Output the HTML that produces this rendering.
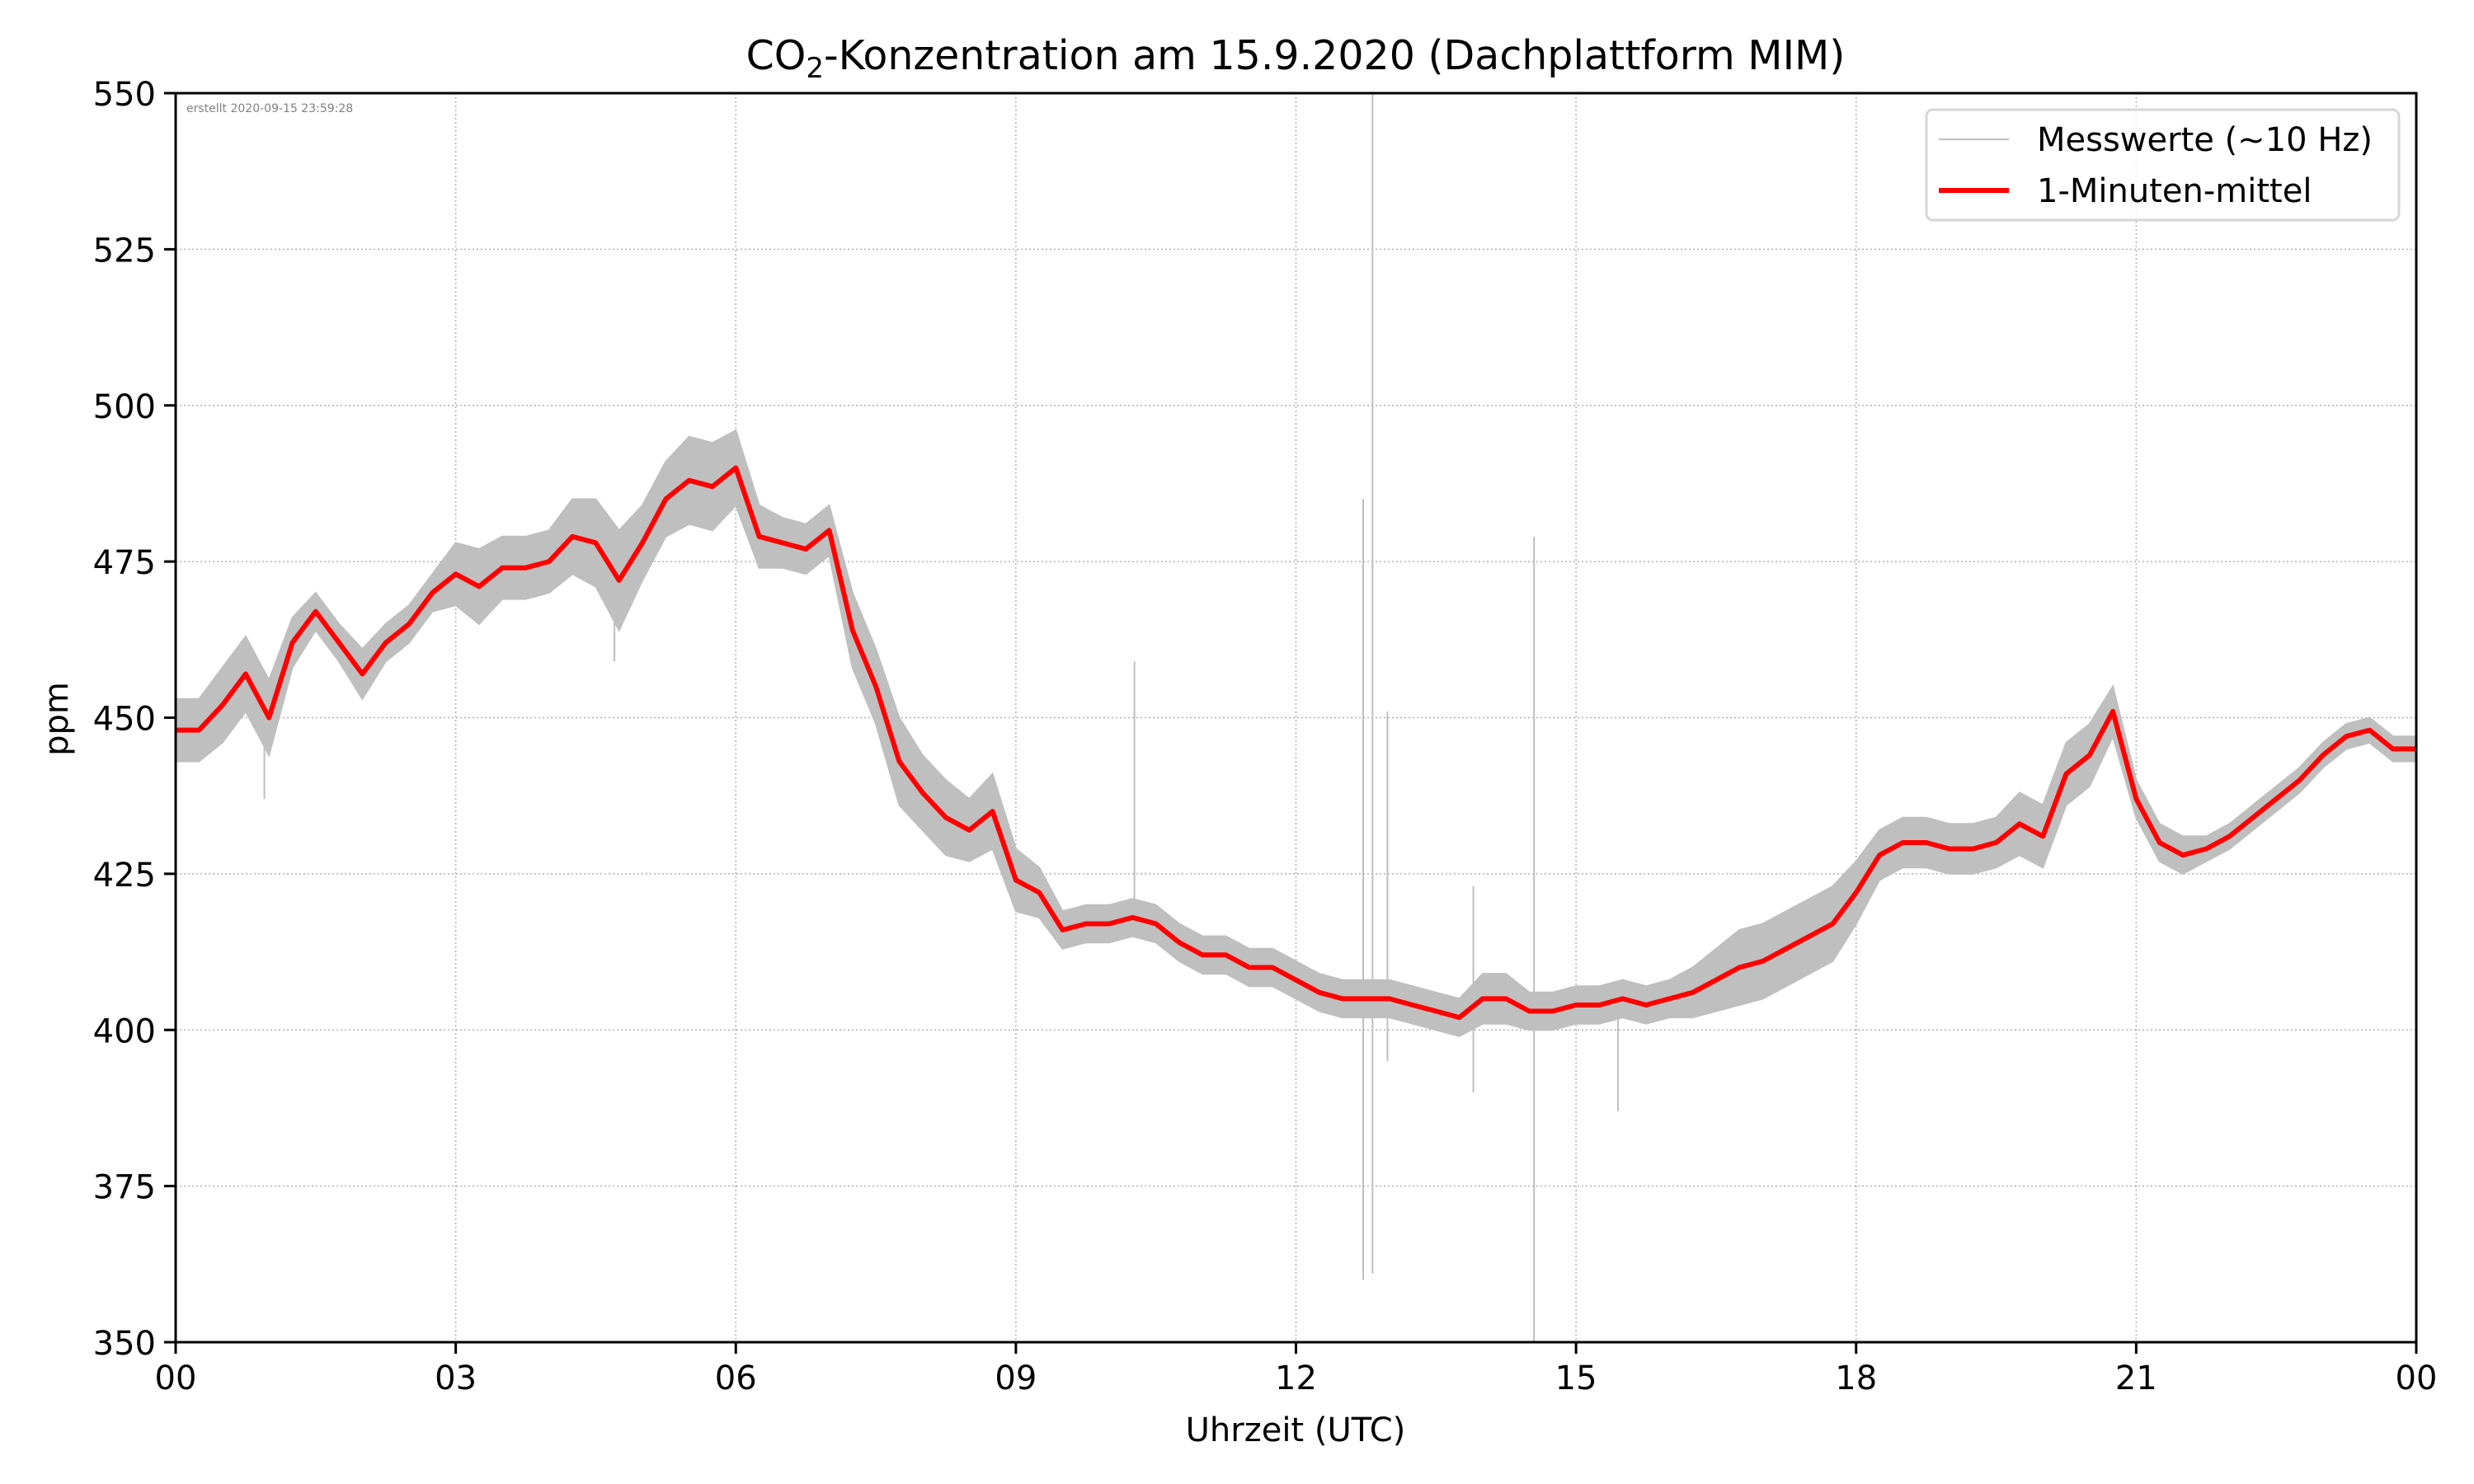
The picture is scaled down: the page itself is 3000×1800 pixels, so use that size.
<!DOCTYPE html>
<html><head><meta charset="utf-8"><style>
html,body{margin:0;padding:0;background:#fff;}
svg{display:block;font-family:"DejaVu Sans","Liberation Sans",sans-serif;}
</style></head><body>
<svg id="chart" width="3000" height="1800" viewBox="0 0 3000 1800" xmlns="http://www.w3.org/2000/svg">
<rect width="3000" height="1800" fill="#fff"/>
<g id="grid"></g>
<g id="raw"></g>
<g id="mean"></g>
<g id="axes"></g>
<text x="1571" y="84" font-size="49" text-anchor="middle">CO<tspan font-size="34" dy="10">2</tspan><tspan dy="-10">-Konzentration am 15.9.2020 (Dachplattform MIM)</tspan></text>
<text x="1571" y="1748" font-size="40" text-anchor="middle">Uhrzeit (UTC)</text>
<text x="0" y="0" font-size="40" text-anchor="middle" transform="translate(82,872) rotate(-90)">ppm</text>
<text x="226" y="136" font-size="14" fill="#808080">erstellt 2020-09-15 23:59:28</text>
<g>
<rect x="2336" y="133" width="573" height="134" rx="8" fill="#fff" fill-opacity="0.8" stroke="#d6d6d6" stroke-width="3"/>
<line x1="2351" y1="169" x2="2436" y2="169" stroke="#bfbfbf" stroke-width="2"/>
<text x="2470" y="183" font-size="40">Messwerte (~10 Hz)</text>
<line x1="2351" y1="231" x2="2436" y2="231" stroke="#ff0000" stroke-width="6"/>
<text x="2470" y="245" font-size="40">1-Minuten-mittel</text>
</g>
</svg>
<script>
const hours = [];
for (let i = 0; i <= 96; i++) hours.push(i * 0.25);
const meanValues = [448,448,452,457,450,462,467,462,457,462,465,470,473,471,474,474,475,479,478,472,478,485,488,487,490,479,478,477,480,464,455,443,438,434,432,435,424,422,416,417,417,418,417,414,412,412,410,410,408,406,405,405,405,404,403,402,405,405,403,403,404,404,405,404,405,406,408,410,411,413,415,417,422,428,430,430,429,429,430,433,431,441,444,451,437,430,428,429,431,434,437,440,444,447,448,445,445];
const rawSpread = [5,5,6,6,6,4,3,3,4,3,3,3,5,6,5,5,5,6,7,8,6,6,7,7,6,5,4,4,4,6,6,7,6,6,5,6,5,4,3,3,3,3,3,3,3,3,3,3,3,3,3,3,3,3,3,3,4,4,3,3,3,3,3,3,3,4,5,6,6,6,6,6,5,4,4,4,4,4,4,5,5,5,5,4,3,3,3,2,2,2,2,2,2,2,2,2,2];
const spikeHours = [10.27,12.72,12.82,12.98,13.9,14.55,15.45,0.95,4.7];
const spikeLow = [418,360,361,395,390,350,387,437,459];
const spikeHigh = [459,485,550,451,423,479,405,452,480];
const yTicks = [350,375,400,425,450,475,500,525,550];
const xTicks = [0,3,6,9,12,15,18,21,24];
const xTickLabels = ["00","03","06","09","12","15","18","21","00"];

const L=213,R=2930,T=113,B=1628;
const xs = h => L + (R-L)*h/24;
const ys = v => B - (B-T)*(v-350)/200;
const NS="http://www.w3.org/2000/svg";
function mk(tag, attrs, parent){const e=document.createElementNS(NS,tag);for(const k in attrs)e.setAttribute(k,attrs[k]);parent.appendChild(e);return e;}
const grid=document.getElementById('grid'), axes=document.getElementById('axes'), raw=document.getElementById('raw'), mean=document.getElementById('mean');

yTicks.forEach(v=>{
  const g=mk('line',{x1:L,x2:R,y1:ys(v),y2:ys(v),stroke:'#b0b0b0','stroke-width':1.5,'stroke-dasharray':'2,3'},grid);
  
  
  const t=mk('line',{x1:L-14,x2:L,y1:ys(v),y2:ys(v),stroke:'#000','stroke-width':3},axes);
  
  
  const lb=mk('text',{x:L-24,y:ys(v)+15,'font-size':40,'text-anchor':'end'},axes);
  lb.textContent=v;
  
  
});
xTicks.forEach((h,i)=>{
  const g=mk('line',{x1:xs(h),x2:xs(h),y1:T,y2:B,stroke:'#b0b0b0','stroke-width':1.5,'stroke-dasharray':'2,3'},grid);
  
  
  const t=mk('line',{x1:xs(h),x2:xs(h),y1:B,y2:B+14,stroke:'#000','stroke-width':3},axes);
  
  
  const lb=mk('text',{x:xs(h),y:B+57,'font-size':40,'text-anchor':'middle'},axes);
  lb.textContent=xTickLabels[i];
  
  
});

let up='',dn='';
hours.forEach((h,i)=>{up+=(i?'L':'M')+xs(h).toFixed(1)+','+ys(meanValues[i]+rawSpread[i]).toFixed(1);});
for(let i=hours.length-1;i>=0;i--){dn+='L'+xs(hours[i]).toFixed(1)+','+ys(meanValues[i]-rawSpread[i]).toFixed(1);}
const band=mk('path',{d:up+dn+'Z',fill:'#bfbfbf',stroke:'#bfbfbf','stroke-width':2},raw);


spikeHours.forEach((h,i)=>{
  const s=mk('line',{x1:xs(h),x2:xs(h),y1:ys(spikeLow[i]),y2:ys(spikeHigh[i]),stroke:'#bfbfbf','stroke-width':2},raw);
  
  
});
let d='';
hours.forEach((h,i)=>{d+=(i?'L':'M')+xs(h).toFixed(1)+','+ys(meanValues[i]).toFixed(1);});
const ml=mk('path',{d:d,fill:'none',stroke:'#ff0000','stroke-width':6,'stroke-linejoin':'round'},mean);



const fr=mk('rect',{x:L,y:T,width:R-L,height:B-T,fill:'none',stroke:'#000','stroke-width':3},axes);


</script>
</body></html>
